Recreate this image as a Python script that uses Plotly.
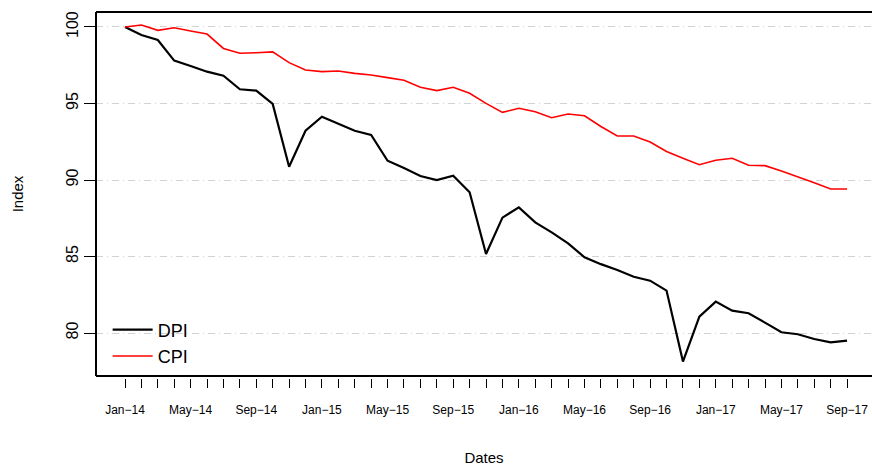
import plotly.graph_objects as go

months = ["Jan", "Feb", "Mar", "Apr", "May", "Jun", "Jul", "Aug", "Sep", "Oct", "Nov", "Dec"]
dates = [f"{months[i % 12]}\u2212{14 + i // 12}" for i in range(45)]

dpi = [100, 99.48, 99.15, 97.8, 97.45, 97.08, 96.82, 95.93, 95.84, 94.97,
       90.87, 93.22, 94.14, 93.66, 93.22, 92.94, 91.26, 90.78, 90.26, 90.0,
       90.28, 89.2, 85.16, 87.54, 88.21, 87.23, 86.58, 85.86, 84.95, 84.5,
       84.12, 83.68, 83.42, 82.77, 78.13, 81.07, 82.05, 81.46, 81.29, 80.68,
       80.05, 79.92, 79.61, 79.39, 79.5]

cpi = [100, 100.13, 99.78, 99.95, 99.74, 99.54, 98.6, 98.28, 98.32, 98.37,
       97.67, 97.19, 97.08, 97.12, 96.97, 96.86, 96.69, 96.52, 96.06, 95.84,
       96.06, 95.67, 95.01, 94.42, 94.69, 94.46, 94.07, 94.31, 94.2, 93.5,
       92.88, 92.88, 92.48, 91.86, 91.42, 91.0, 91.29, 91.42, 90.96, 90.94,
       90.59, 90.22, 89.82, 89.41, 89.41]

y_ticks = [80, 85, 90, 95, 100]

idx = list(range(len(dates)))
tick_text = [d if i % 4 == 0 else "" for i, d in enumerate(dates)]

FONT = "Liberation Sans, Arial, Helvetica, sans-serif"

fig = go.Figure()
fig.add_trace(go.Scatter(x=idx, y=dpi, mode="lines", name="DPI",
                         line=dict(color="black", width=2.2)))
fig.add_trace(go.Scatter(x=idx, y=cpi, mode="lines", name="CPI",
                         line=dict(color="#ff0000", width=1.6)))

d = 2 / 366
fig.update_layout(
    width=872, height=468,
    margin=dict(l=96, r=0, t=12, b=90, autoexpand=False),
    paper_bgcolor="white", plot_bgcolor="white",
    font=dict(family=FONT, color="black"),
    showlegend=True,
    legend=dict(x=0.015, y=0.01, xanchor="left", yanchor="bottom",
                bgcolor="rgba(0,0,0,0)", font=dict(size=18),
                itemwidth=40, tracegroupgap=0),
    xaxis=dict(
        range=[-1.767, 45.52], anchor="free", position=0, automargin=False,
        showgrid=False, zeroline=False, showline=False,
        tickmode="array", tickvals=idx, ticktext=tick_text,
        ticks="outside", ticklen=9, tickwidth=1, tickcolor="black",
        tickfont=dict(size=12), ticklabelstandoff=12,
        title=dict(text="Dates", font=dict(size=15), standoff=36),
    ),
    yaxis=dict(
        domain=[d, 1], range=[77.19, 100.98], automargin=False,
        showgrid=True, gridcolor="#d3d3d3", gridwidth=1.2,
        griddash="7px,4px,1px,4px",
        zeroline=False, showline=False,
        tickmode="array", tickvals=y_ticks, ticktext=[str(v) for v in y_ticks],
        ticks="outside", ticklen=11, tickwidth=1, tickcolor="black",
        tickfont=dict(size=16), tickangle=-90, ticklabelstandoff=0,
        title=dict(text="Index", font=dict(size=15), standoff=36),
    ),
)

frame = dict(type="line", xref="paper", yref="paper", line=dict(color="black", width=2))
fig.add_shape(x0=0, x1=0, y0=d, y1=1, **frame)
fig.add_shape(x0=0, x1=1, y0=1, y1=1, **frame)
fig.add_shape(x0=0, x1=1, y0=d, y1=d, **frame)

fig.write_html("out.html",
               config={"displayModeBar": False},
               post_script="document.body.style.margin='0';document.body.style.overflow='hidden';")
